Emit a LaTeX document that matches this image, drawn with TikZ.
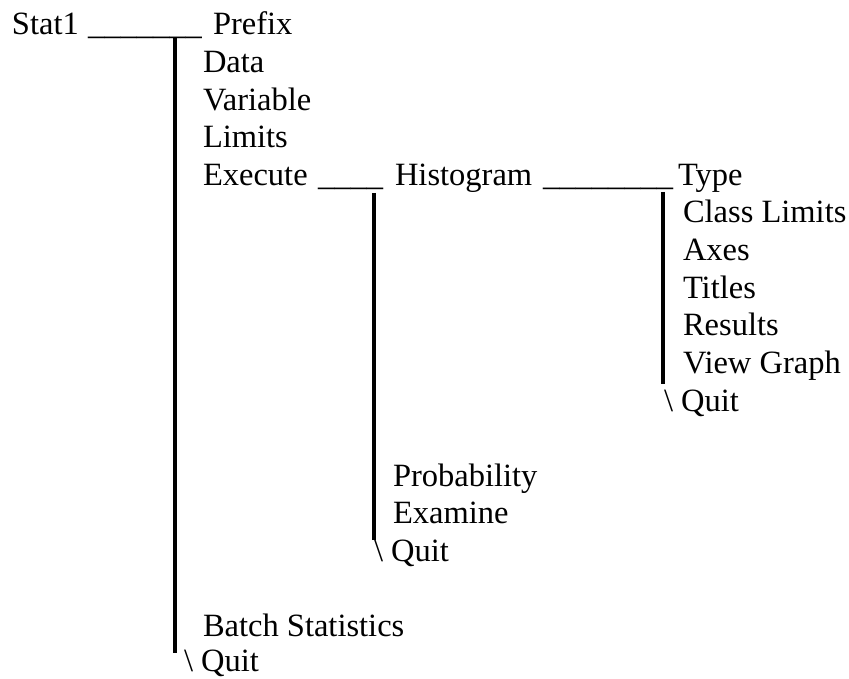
\documentclass[tikz,border=0pt]{standalone}
\usepackage{fontspec}
\setmainfont{Liberation Serif}
\begin{document}
\begin{tikzpicture}[x=1pt,y=-1pt,
  lbl/.style={anchor=base west,inner sep=0pt,outer sep=0pt,font=\fontsize{32.5}{37.6}\selectfont},
  bar/.style={line width=4.5pt,line cap=butt}]
\useasboundingbox (0,0) rectangle (849,679);
% row 0
\node[lbl] (stat) at (12,35) {Stat1};
\node[lbl] (u1) at (88,35) {\_\_\_\_\_\_\_};
\node[lbl] (prefix) at (213,35) {Prefix};
% level 1
\node[lbl] (data) at (203,72.6) {Data};
\node[lbl] (variable) at (203,110.2) {Variable};
\node[lbl] (limits) at (203,147.8) {Limits};
\node[lbl] (execute) at (203,185.4) {Execute};
\node[lbl] (u2) at (318,185.4) {\_\_\_\_};
\node[lbl] (histogram) at (395,185.4) {Histogram};
\node[lbl] (u3) at (543,185.4) {\_\_\_\_\_\_\_\_};
\node[lbl] (type) at (678,185.4) {Type};
% type level
\node[lbl] (classlimits) at (683,223) {Class Limits};
\node[lbl] (axes) at (683,260.6) {Axes};
\node[lbl] (titles) at (683,298.2) {Titles};
\node[lbl] (results) at (683,335.8) {Results};
\node[lbl] (viewgraph) at (683,373.4) {View Graph};
\node[lbl] (quit3) at (664,411) {\textbackslash\ Quit};
% histogram level
\node[lbl] (probability) at (393,486.2) {Probability};
\node[lbl] (examine) at (393,523.8) {Examine};
\node[lbl] (quit2) at (374,561.4) {\textbackslash\ Quit};
% level 1 bottom
\node[lbl] (batch) at (203,636.6) {Batch Statistics};
\node[lbl] (quit1) at (184,671) {\textbackslash\ Quit};
% bars
\coordinate (b1t) at (175,37);
\coordinate (b1b) at (175,653);
\coordinate (b2t) at (374,193);
\coordinate (b2b) at (374,540);
\coordinate (b3t) at (663,192);
\coordinate (b3b) at (663,384);
\draw[bar] (b1t) -- (b1b);
\draw[bar] (b2t) -- (b2b);
\draw[bar] (b3t) -- (b3b);
\end{tikzpicture}
\end{document}
